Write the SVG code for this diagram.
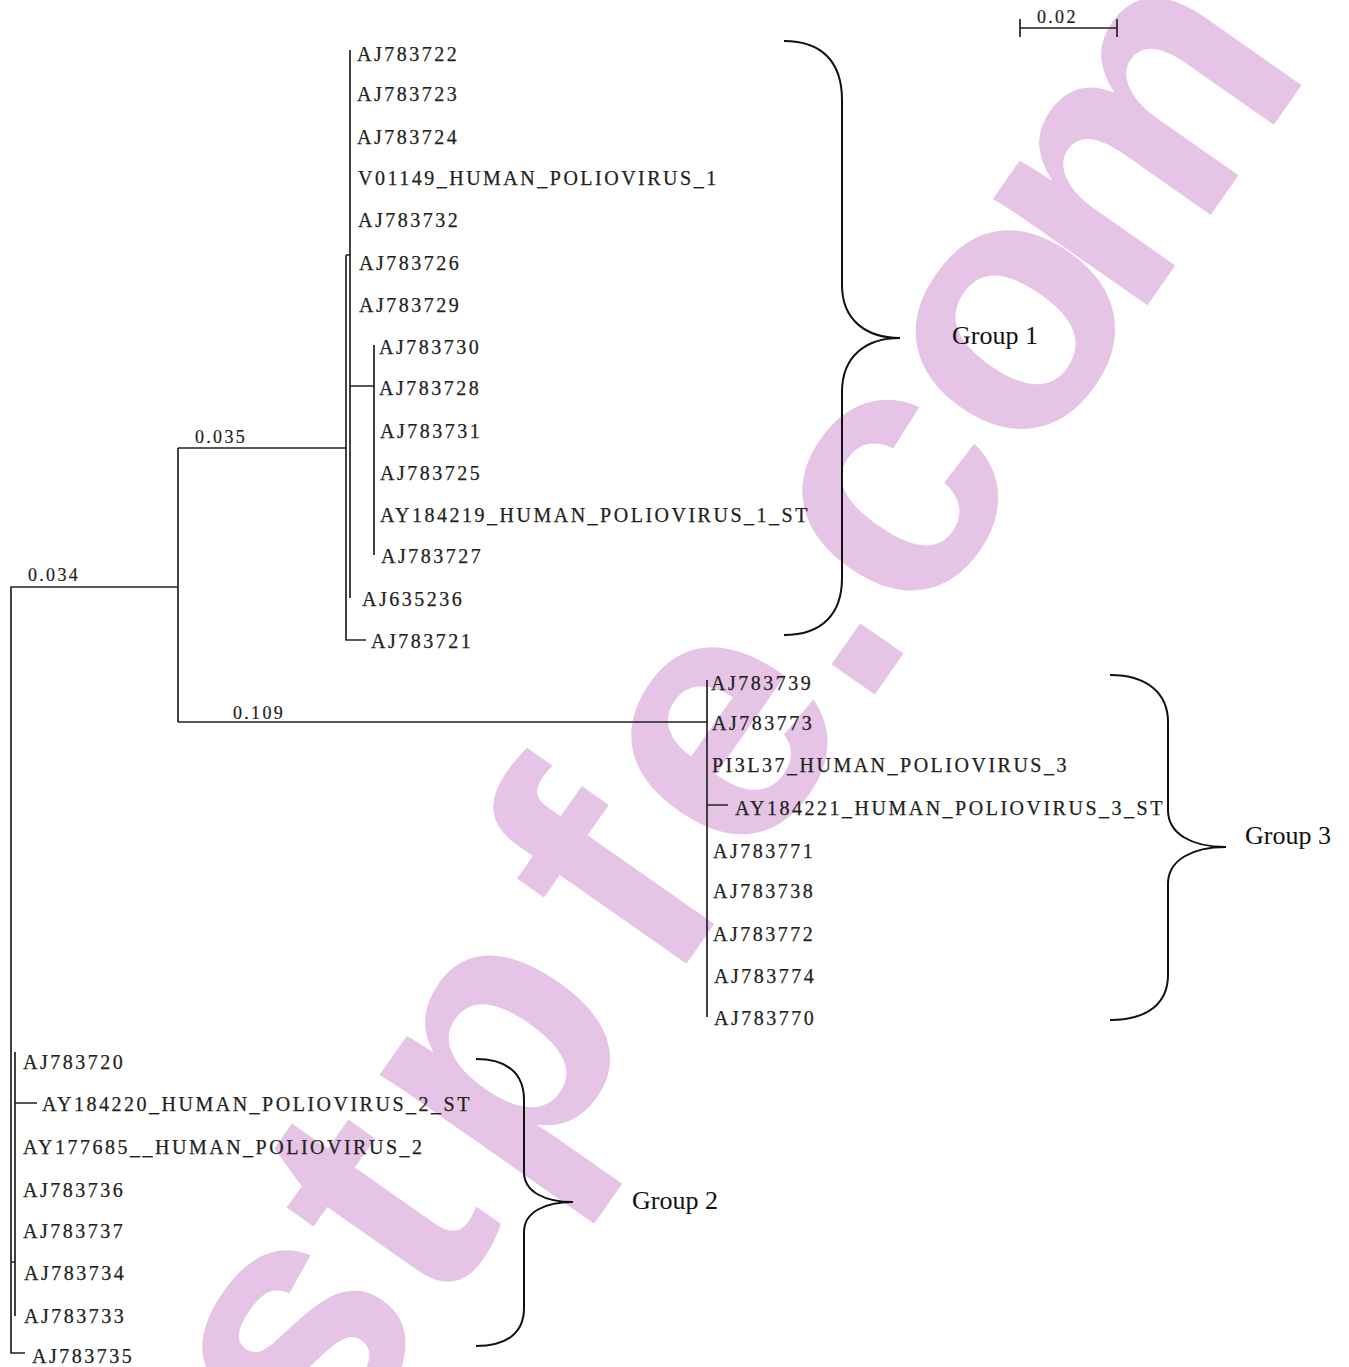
<svg xmlns="http://www.w3.org/2000/svg" width="1349" height="1367" viewBox="0 0 1349 1367">
<style>
.wm{font-family:"Liberation Sans",Arial,sans-serif;font-weight:bold;font-size:355px;fill:#e6c4e6}
.lbl{font-family:"Liberation Serif","Times New Roman",serif;font-size:20px;letter-spacing:2.5px;fill:#231f20;stroke:#231f20;stroke-width:0.25}
.bl{font-family:"Liberation Serif","Times New Roman",serif;font-size:18px;letter-spacing:2.3px;fill:#231f20;stroke:#231f20;stroke-width:0.2}
.grp{font-family:"Liberation Serif","Times New Roman",serif;font-size:26px;fill:#111}
.ln{fill:none;stroke:#222;stroke-width:1.7}
.br{fill:none;stroke:#111;stroke-width:2}
</style>
<rect width="1349" height="1367" fill="#ffffff"/>
<g id="watermark">
<text class="wm" transform="rotate(-55)" y="1115" x="-930 -770 -578 -370 -190 -42 107 312 541" text-anchor="middle">stpfe.com</text>
</g>
<g id="connectors">
<path class="ln" d="M178,587 H11 V1353 H25"/>
<path class="ln" d="M11,1262 H15 M15,1052 V1316 M15,1103 H37"/>
<path class="ln" d="M178,448 V722"/>
<path class="ln" d="M178,448 H346 M346,255 V640 H366 M346,255 H350 M350,50 V598 M350,386 H374 M374,345 V555"/>
<path class="ln" d="M178,722 H707 M707,680 V1017 M707,805 H728"/>
</g>
<g id="scale-bar">
<path class="ln" d="M1020,28 H1117 M1020,19 V37 M1117,19 V37"/>
<text class="bl" x="1037" y="23">0.02</text>
</g>
<g id="branch-labels">
<text class="bl" x="195" y="443">0.035</text>
<text class="bl" x="28" y="581">0.034</text>
<text class="bl" x="233" y="719">0.109</text>
</g>
<g id="group1-leaves">
<g id="n-AJ783722"><text class="lbl" x="357" y="61">AJ783722</text></g>
<g id="n-AJ783723"><text class="lbl" x="357" y="101">AJ783723</text></g>
<g id="n-AJ783724"><text class="lbl" x="357" y="144">AJ783724</text></g>
<g id="n-V01149"><text class="lbl" x="358" y="185">V01149_HUMAN_POLIOVIRUS_1</text></g>
<g id="n-AJ783732"><text class="lbl" x="358" y="227">AJ783732</text></g>
<g id="n-AJ783726"><text class="lbl" x="359" y="270">AJ783726</text></g>
<g id="n-AJ783729"><text class="lbl" x="359" y="312">AJ783729</text></g>
<g id="n-AJ783730"><text class="lbl" x="379" y="354">AJ783730</text></g>
<g id="n-AJ783728"><text class="lbl" x="379" y="395">AJ783728</text></g>
<g id="n-AJ783731"><text class="lbl" x="380" y="438">AJ783731</text></g>
<g id="n-AJ783725"><text class="lbl" x="380" y="480">AJ783725</text></g>
<g id="n-AY184219"><text class="lbl" x="380" y="522">AY184219_HUMAN_POLIOVIRUS_1_ST</text></g>
<g id="n-AJ783727"><text class="lbl" x="381" y="563">AJ783727</text></g>
<g id="n-AJ635236"><text class="lbl" x="362" y="606">AJ635236</text></g>
<g id="n-AJ783721"><text class="lbl" x="371" y="648">AJ783721</text></g>
</g>
<g id="group3-leaves">
<g id="n-AJ783739"><text class="lbl" x="711" y="690">AJ783739</text></g>
<g id="n-AJ783773"><text class="lbl" x="712" y="730">AJ783773</text></g>
<g id="n-PI3L37"><text class="lbl" x="712" y="772">PI3L37_HUMAN_POLIOVIRUS_3</text></g>
<g id="n-AY184221"><text class="lbl" x="735" y="815">AY184221_HUMAN_POLIOVIRUS_3_ST</text></g>
<g id="n-AJ783771"><text class="lbl" x="713" y="858">AJ783771</text></g>
<g id="n-AJ783738"><text class="lbl" x="713" y="898">AJ783738</text></g>
<g id="n-AJ783772"><text class="lbl" x="713" y="941">AJ783772</text></g>
<g id="n-AJ783774"><text class="lbl" x="714" y="983">AJ783774</text></g>
<g id="n-AJ783770"><text class="lbl" x="714" y="1025">AJ783770</text></g>
</g>
<g id="group2-leaves">
<g id="n-AJ783720"><text class="lbl" x="23" y="1069">AJ783720</text></g>
<g id="n-AY184220"><text class="lbl" x="42" y="1111">AY184220_HUMAN_POLIOVIRUS_2_ST</text></g>
<g id="n-AY177685"><text class="lbl" x="23" y="1154">AY177685__HUMAN_POLIOVIRUS_2</text></g>
<g id="n-AJ783736"><text class="lbl" x="23" y="1197">AJ783736</text></g>
<g id="n-AJ783737"><text class="lbl" x="23" y="1238">AJ783737</text></g>
<g id="n-AJ783734"><text class="lbl" x="24" y="1280">AJ783734</text></g>
<g id="n-AJ783733"><text class="lbl" x="24" y="1323">AJ783733</text></g>
<g id="n-AJ783735"><text class="lbl" x="32" y="1363">AJ783735</text></g>
</g>
<g id="group1">
<path class="br" d="M784,41 C822,41 842,62 842,100 L842,285 C842,320 866,338 900,338 C866,338 842,356 842,392 L842,578 C842,614 822,635 784,635"/>
<text class="grp" x="952" y="344">Group 1</text>
</g>
<g id="group3">
<path class="br" d="M1110,675 C1148,675 1168,694 1168,722 L1168,810 C1168,834 1192,847 1226,847 C1192,847 1168,860 1168,884 L1168,975 C1168,1003 1148,1020 1110,1020"/>
<text class="grp" x="1245" y="844">Group 3</text>
</g>
<g id="group2">
<path class="br" d="M476,1059 C508,1059 524,1074 524,1100 L524,1172 C524,1192 545,1202 573,1202 C545,1202 524,1212 524,1232 L524,1308 C524,1332 508,1346 476,1346"/>
<text class="grp" x="632" y="1209">Group 2</text>
</g>
</svg>
